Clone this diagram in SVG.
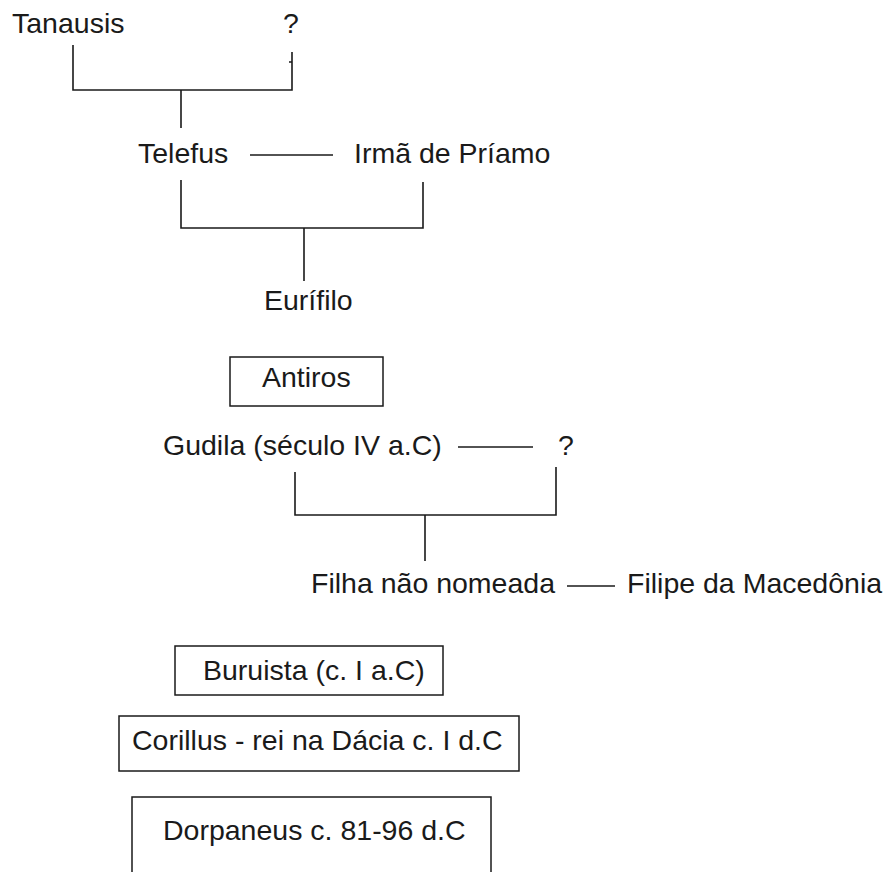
<svg xmlns="http://www.w3.org/2000/svg" width="891" height="872" viewBox="0 0 891 872">
  <style>
    text { font-family: "Liberation Sans", Arial, sans-serif; font-size: 28.5px; fill: #1a1a1a; }
    .ln { stroke: #1a1a1a; stroke-width: 1.6; fill: none; }
    .box { stroke: #1a1a1a; stroke-width: 1.5; fill: #fff; }
  </style>
  <rect width="891" height="872" fill="#fff"/>

  <!-- family connectors -->
  <g id="connectors">
    <path class="ln" d="M73,45 V90 H292 V52 M289,62 H292 M181,90 V128"/>
    <line class="ln" x1="250" y1="155" x2="333" y2="155"/>
    <path class="ln" d="M181,180 V228 H423 V182 M304,228 V281"/>
    <line class="ln" x1="458" y1="447" x2="533" y2="447"/>
    <path class="ln" d="M295,472 V515 H556 V467 M425,515 V561"/>
    <line class="ln" x1="567" y1="586" x2="615" y2="586"/>
  </g>

  <g id="tanausis"><text x="12" y="33">Tanausis</text></g>
  <g id="unknown-1"><text x="283" y="33">?</text></g>
  <g id="telefus"><text x="138" y="163">Telefus</text></g>
  <g id="irma-de-priamo"><text x="354" y="163">Irmã de Príamo</text></g>
  <g id="eurifilo"><text x="264" y="310">Eurífilo</text></g>

  <g id="antiros">
    <rect class="box" x="230" y="357" width="153" height="49"/>
    <text x="262" y="387">Antiros</text>
  </g>

  <g id="gudila"><text x="163" y="455">Gudila (século IV a.C)</text></g>
  <g id="unknown-2"><text x="558" y="455">?</text></g>
  <g id="filha"><text x="311" y="593">Filha não nomeada</text></g>
  <g id="filipe"><text x="627" y="593">Filipe da Macedônia</text></g>

  <g id="buruista">
    <rect class="box" x="175" y="646" width="268" height="49"/>
    <text x="203" y="680">Buruista (c. I a.C)</text>
  </g>

  <g id="corillus">
    <rect class="box" x="119" y="716" width="400" height="55"/>
    <text x="132" y="750">Corillus - rei na Dácia c. I d.C</text>
  </g>

  <g id="dorpaneus">
    <rect class="box" x="132" y="797" width="359" height="90"/>
    <text x="163" y="840">Dorpaneus c. 81-96 d.C</text>
  </g>
</svg>
